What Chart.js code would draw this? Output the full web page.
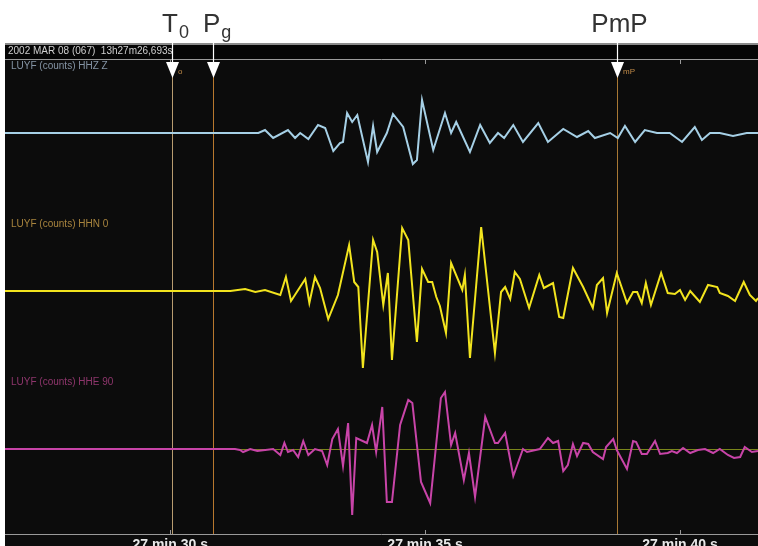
<!DOCTYPE html>
<html><head><meta charset="utf-8">
<script src="https://cdn.jsdelivr.net/npm/chart.js@4/dist/chart.umd.min.js"></script>
<style>html,body{margin:0;padding:0;background:#fff;overflow:hidden}canvas{display:block}</style>
</head><body>
<canvas id="c" width="758" height="546"></canvas>
<script>
// time in seconds after 13h27m, amplitude in relative counts (upward positive)
const hhzT = [26.70,31.73,31.86,32.02,32.31,32.45,32.55,32.71,32.90,33.04,33.20,33.33,33.39,33.47,33.57,33.67,33.88,33.98,34.06,34.25,34.37,34.57,34.76,34.84,34.94,35.16,35.39,35.51,35.61,35.88,36.08,36.27,36.43,36.55,36.73,36.92,37.22,37.41,37.71,37.98,38.20,38.33,38.63,38.78,38.92,39.12,39.31,39.55,39.80,40.04,40.29,40.43,40.59,40.78,41.04,41.31,41.53];
const hhzV = [0,0,3,-5,3,-5,0,-6,8,5,-18,-10,-9,20,11,18,-29,7,-19,0,19,6,-31,-27,33,-17,20,0,11,-19,8,-10,0,-5,8,-9,10,-9,4,-4,2,-5,0,-5,7,-9,3,0,0,-9,6,-7,0,0,-3,0,0];

const hhnT = [26.70,31.18,31.47,31.67,31.86,32.16,32.27,32.37,32.65,32.73,32.84,32.94,33.10,33.29,33.51,33.61,33.69,33.78,33.98,34.06,34.18,34.27,34.35,34.55,34.67,34.84,34.94,35.06,35.14,35.22,35.29,35.41,35.51,35.73,35.78,35.88,36.10,36.37,36.49,36.57,36.67,36.76,36.86,37.04,37.24,37.33,37.51,37.63,37.71,37.90,38.10,38.29,38.37,38.49,38.57,38.76,38.96,39.08,39.16,39.25,39.33,39.43,39.63,39.76,39.90,40.00,40.10,40.20,40.39,40.55,40.73,40.78,40.94,41.08,41.25,41.37,41.49,41.53];
const hhnV = [0,0,2,-1,1,-4,14,-10,12,-12,14,3,-28,-4,46,9,4,-77,51,39,-14,18,-69,63,51,-51,22,9,9,-6,-15,-42,28,1,16,-67,64,-62,-1,4,-8,19,12,-17,16,3,8,-26,-27,23,4,-17,6,13,-22,18,-12,-1,-1,-12,8,-14,18,-2,-3,1,-9,0,-11,6,4,-2,-5,-10,9,-4,-10,-7];

const hheT = [26.70,31.27,31.37,31.43,31.57,31.71,32.02,32.16,32.24,32.31,32.41,32.51,32.61,32.71,32.84,32.98,33.08,33.18,33.29,33.39,33.49,33.57,33.65,33.86,33.96,34.04,34.16,34.25,34.35,34.51,34.67,34.75,34.92,35.10,35.31,35.39,35.51,35.59,35.76,35.86,35.98,36.18,36.37,36.43,36.57,36.73,36.92,37.00,37.25,37.41,37.51,37.61,37.71,37.80,37.90,37.98,38.10,38.20,38.29,38.49,38.55,38.69,38.76,38.96,39.08,39.14,39.25,39.35,39.51,39.61,39.76,39.84,39.94,40.06,40.20,40.35,40.49,40.65,40.78,40.94,41.06,41.18,41.27,41.41,41.53];
const hheV = [0,0,-1,-3,0,-2,0,-6,6,-3,-1,-8,8,-6,0,-2,-16,10,20,-17,26,-66,11,6,24,-3,42,-53,-53,24,49,46,-33,-54,51,57,4,16,-31,-4,-48,32,6,6,16,-27,0,-3,0,11,6,8,-22,-16,5,-7,6,5,-3,-10,2,10,-1,-20,8,7,-5,-5,8,-5,-4,-2,-4,1,-4,-1,0,-4,0,-6,-9,-8,2,-3,-2];

const channelLabels = ['LUYF (counts) HHZ Z', 'LUYF (counts) HHN 0', 'LUYF (counts) HHE 90'];
const channelColors = ['#a6d0e6', '#f2e41e', '#c844a8'];
const labelColors = ['#8594a4', '#a8843e', '#8e366c'];
const tickSeconds = [30, 35, 40];
const tickLabels = ['27 min 30 s', '27 min 35 s', '27 min 40 s'];
const phaseNames = ['T', 'P', 'PmP'];
const phaseSubs = ['0', 'g', ''];
const phaseTimes = [30.03, 30.84, 38.76];
const headerText = '2002 MAR 08 (067)  13h27m26,693s';

// layout constants (display units of the stacked record)
const offsets = [401, 243, 85];
const series = [[hhzT, hhzV], [hhnT, hhnV], [hheT, hheV]];

const datasets = series.map((s, k) => ({
  data: s[0].map((t, i) => ({x: t, y: offsets[k] + s[1][i]})),
  borderColor: channelColors[k], borderWidth: 2, pointRadius: 0, tension: 0, fill: false
}));

const panel = {
  id: 'panel',
  beforeDraw(chart) {
    const ctx = chart.ctx, a = chart.chartArea, W = chart.width, H = chart.height;
    ctx.save();
    ctx.fillStyle = '#ffffff'; ctx.fillRect(0, 0, W, H);
    ctx.fillStyle = '#0c0c0c'; ctx.fillRect(5, 43, W - 5, H - 43);
    ctx.fillStyle = '#050505'; ctx.fillRect(5, 45, W - 5, 14);
    ctx.fillStyle = '#8a8a8a'; ctx.fillRect(5, 43, W - 5, 2);
    ctx.strokeStyle = '#9a9a9a'; ctx.lineWidth = 1;
    ctx.beginPath(); ctx.moveTo(5, a.top - 0.5); ctx.lineTo(W, a.top - 0.5);
    ctx.moveTo(5, a.bottom + 0.5); ctx.lineTo(W, a.bottom + 0.5); ctx.stroke();
    const xs = chart.scales.x, ys = chart.scales.y;
    ctx.beginPath();
    tickSeconds.forEach(v => {
      const px = Math.round(xs.getPixelForValue(v)) + 0.5;
      ctx.moveTo(px, a.top); ctx.lineTo(px, a.top + 4);
      ctx.moveTo(px, a.bottom); ctx.lineTo(px, a.bottom - 4);
    });
    ctx.stroke();
    // header text
    ctx.fillStyle = '#cfcfcf'; ctx.font = '10px "Liberation Sans", Arial, sans-serif';
    ctx.textBaseline = 'middle'; ctx.textAlign = 'left';
    ctx.fillText(headerText, 8, 51.5);
    // channel labels
    const ly = [66, 224, 382];
    channelLabels.forEach((l, k) => { ctx.fillStyle = labelColors[k]; ctx.fillText(l, 11, ly[k]); });
    // zero line of HHE
    const zy = Math.round(ys.getPixelForValue(offsets[2])) + 0.5;
    ctx.strokeStyle = 'rgba(150,165,30,0.8)';
    ctx.beginPath(); ctx.moveTo(a.left, zy); ctx.lineTo(a.right, zy); ctx.stroke();
    // phase lines
    const lc = ['#b89c70', '#b8782e', '#a87834'];
    phaseTimes.forEach((t, i) => {
      const px = Math.round(xs.getPixelForValue(t)) + 0.5;
      ctx.strokeStyle = lc[i];
      ctx.beginPath(); ctx.moveTo(px, a.top); ctx.lineTo(px, a.bottom); ctx.stroke();
    });
    ctx.restore();
  },
  afterDraw(chart) {
    const ctx = chart.ctx, xs = chart.scales.x;
    ctx.save();
    phaseTimes.forEach((t, i) => {
      const px = Math.round(xs.getPixelForValue(t)) + 0.5;
      ctx.strokeStyle = '#ffffff'; ctx.lineWidth = 1.2;
      ctx.beginPath(); ctx.moveTo(px, 37); ctx.lineTo(px, 64); ctx.stroke();
      ctx.fillStyle = '#ffffff';
      ctx.beginPath(); ctx.moveTo(px - 6.5, 62); ctx.lineTo(px + 6.5, 62); ctx.lineTo(px, 78); ctx.closePath(); ctx.fill();
      ctx.fillStyle = '#333333'; ctx.textBaseline = 'alphabetic';
      ctx.font = '26px "Liberation Sans", Arial, sans-serif';
      if (phaseSubs[i]) {
        ctx.textAlign = 'left';
        ctx.fillText(phaseNames[i], px - 10.5, 32);
        const w = ctx.measureText(phaseNames[i]).width;
        ctx.font = '18px "Liberation Sans", Arial, sans-serif';
        ctx.fillText(phaseSubs[i], px - 10.5 + w + 1, 38);
      } else {
        ctx.textAlign = 'center';
        ctx.fillText(phaseNames[i], px + 2, 32);
      }
    });
    ctx.fillStyle = '#c08a48'; ctx.font = '8px "Liberation Sans", Arial, sans-serif';
    ctx.textAlign = 'left'; ctx.textBaseline = 'middle';
    ctx.fillText('o', Math.round(xs.getPixelForValue(phaseTimes[0])) + 6, 72);
    ctx.fillText('mP', Math.round(xs.getPixelForValue(phaseTimes[2])) + 6, 72);
    ctx.restore();
  }
};

new Chart(document.getElementById('c'), {
  type: 'line',
  data: {datasets},
  options: {
    responsive: false, animation: false, devicePixelRatio: 1,
    layout: {padding: {left: 5, top: 60, right: 0, bottom: 0}},
    plugins: {legend: {display: false}, tooltip: {enabled: false}},
    scales: {
      x: {
        type: 'linear', min: 26.76, max: 41.53, position: 'bottom',
        grid: {display: false, drawTicks: false}, border: {display: false},
        afterBuildTicks: s => { s.ticks = tickSeconds.map(v => ({value: v})); },
        afterFit: s => { s.height = 12; },
        ticks: {
          autoSkip: false, maxRotation: 0, padding: 3, color: '#e8e8e8',
          font: {size: 14, weight: 'bold', family: '"Liberation Sans", Arial, sans-serif'},
          callback: v => tickLabels[tickSeconds.indexOf(v)] || ''
        }
      },
      y: {type: 'linear', min: 0, max: 474, display: false}
    }
  },
  plugins: [panel]
});
</script>
</body></html>
